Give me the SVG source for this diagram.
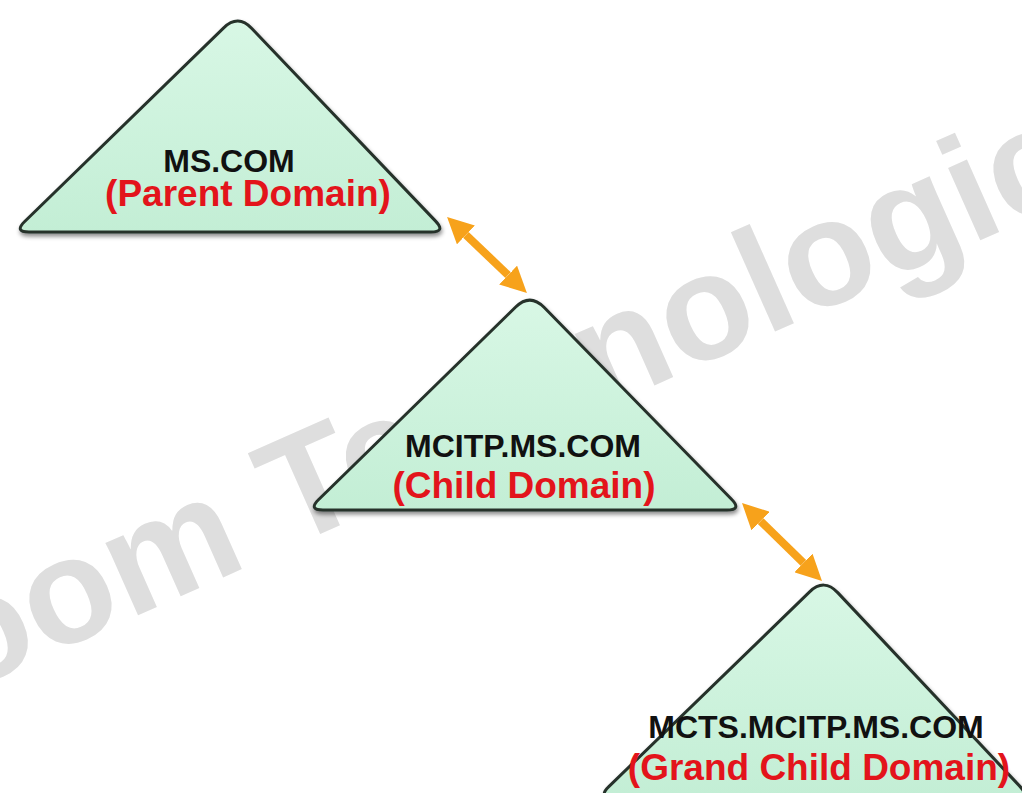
<svg xmlns="http://www.w3.org/2000/svg" width="1022" height="793" viewBox="0 0 1022 793">
  <style>
    .tri { fill: url(#triFill); stroke: #27322c; stroke-width: 3; filter: url(#shadow); }
    .name { font-family: "Liberation Sans", Arial, sans-serif; font-weight: bold; font-size: 32px; fill: #111; text-anchor: middle; }
    .role { font-family: "Liberation Sans", Arial, sans-serif; font-weight: bold; font-size: 37px; fill: #e3141b; text-anchor: middle; }
    .wm { font-family: "Liberation Sans", Arial, sans-serif; font-weight: bold; font-size: 150px; fill: #dedede; }
    .link { stroke: #f7a21b; stroke-width: 8; fill: none; marker-start: url(#head); marker-end: url(#head); }
  </style>
  <defs>
    <linearGradient id="triFill" x1="0" y1="0" x2="0" y2="1">
      <stop offset="0" stop-color="#d8f7e5"/>
      <stop offset="1" stop-color="#c3eed5"/>
    </linearGradient>
    <filter id="shadow" x="-10%" y="-10%" width="120%" height="130%">
      <feDropShadow dx="1" dy="3" stdDeviation="2" flood-color="#000" flood-opacity="0.45"/>
    </filter>
    <marker id="head" markerUnits="userSpaceOnUse" markerWidth="26" markerHeight="26" viewBox="0 0 26 26" refX="0" refY="13" orient="auto-start-reverse">
      <path d="M0,0 L26,13 L0,26 z" fill="#f7a21b"/>
    </marker>
  </defs>
  <rect width="1022" height="793" fill="#ffffff"/>
  <text class="wm" x="-39" y="694" transform="rotate(-24 -39 694)">oom Technologic</text>

  <g id="parent-domain">
    <path class="tri" d="M223.7,27.9 Q238,14 251.8,28.5 L435.6,221.1 Q446,232 431,232 L29,232 Q14,232 24.7,221.5 Z"/>
    <text class="name" x="229" y="172">MS.COM</text>
    <text class="role" x="248" y="206">(Parent Domain)</text>
  </g>

  <g id="child-domain">
    <path class="tri" d="M515.7,307 Q530,293 544,307.3 L731.5,499.3 Q742,510 727,510 L323,510 Q308,510 318.7,499.5 Z"/>
    <text class="name" x="523" y="457">MCITP.MS.COM</text>
    <text class="role" x="524" y="498">(Child Domain)</text>
  </g>

  <g id="grandchild-domain">
    <path class="tri" d="M809.6,591.9 Q824,578 837.7,592.6 L1019.7,786.1 Q1030,797 1015,797 L613,797 Q598,797 608.8,786.6 Z"/>
    <text class="name" x="816" y="738">MCTS.MCITP.MS.COM</text>
    <text class="role" x="819" y="780">(Grand Child Domain)</text>
  </g>

  <g id="connectors">
    <line class="link" x1="465.9" y1="234.9" x2="508.1" y2="275.1"/>
    <line class="link" x1="760.6" y1="521.1" x2="803.4" y2="562.9"/>
  </g>
</svg>
